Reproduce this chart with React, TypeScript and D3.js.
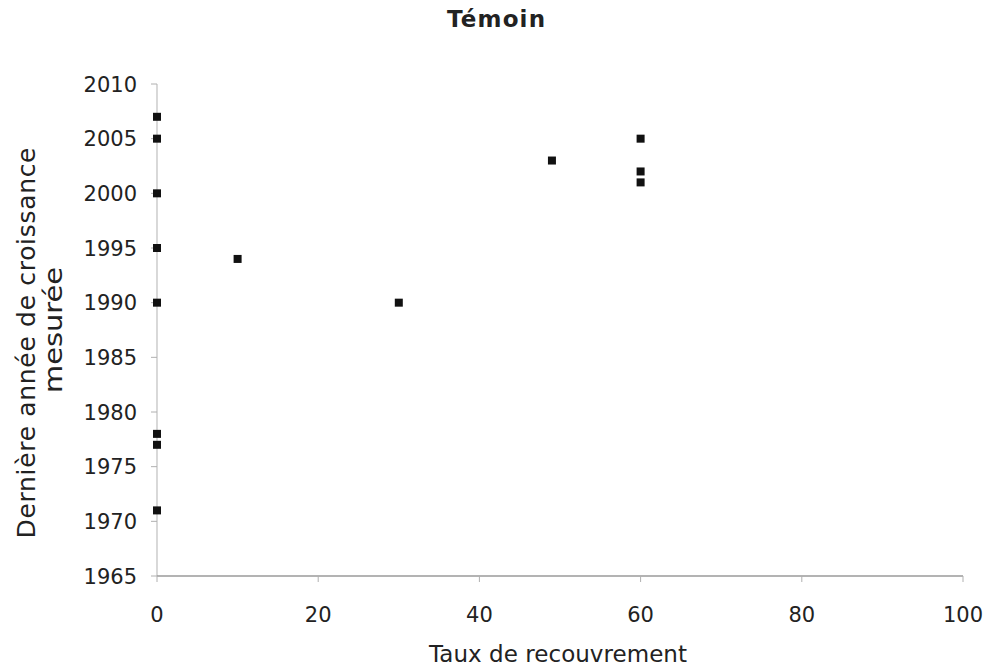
import React from "react";
import * as d3 from "d3";

const title = "Témoin";
const xLabel = "Taux de recouvrement";
const yLabelLines = ["Dernière année de croissance", "mesurée"];
const xTicks = [0, 20, 40, 60, 80, 100];
const yTicks = [1965, 1970, 1975, 1980, 1985, 1990, 1995, 2000, 2005, 2010];
const coverValues = [0, 0, 0, 0, 0, 0, 0, 0, 10, 30, 49, 60, 60, 60];
const yearValues = [2007, 2005, 2000, 1995, 1990, 1978, 1977, 1971, 1994, 1990, 2003, 2005, 2002, 2001];

const W = 994;
const H = 670;
const left = 157;
const right = 963;
const top = 84;
const bottom = 576;
const font = "Verdana, 'DejaVu Sans', sans-serif";

export default function App() {
  const x = d3.scaleLinear().domain([0, 100]).range([left, right]);
  const y = d3.scaleLinear().domain([1965, 2010]).range([bottom, top]);
  const pts = coverValues.map((c, i) => ({ c, v: yearValues[i] }));
  const sq = 8;
  const yLab = [
    { cx: 343, bx: 35, len: 391, adj: "spacing" },
    { cx: 330, bx: 62, len: 126, adj: "spacingAndGlyphs" },
  ];
  return (
    <svg width={W} height={H} style={{ position: "absolute", left: 0, top: 0, background: "#fff" }}>
      <text x={496} y={27} textAnchor="middle" fontFamily={font} fontWeight="bold" fontSize={23} fill="#222" textLength={98} lengthAdjust="spacing">
        {title}
      </text>
      <line x1={left} x2={left} y1={top} y2={bottom} stroke="#c4c4c4" strokeWidth={1.3} />
      <line x1={left} x2={right} y1={bottom} y2={bottom} stroke="#9a9a9a" strokeWidth={1.6} />
      {yTicks.map((t) => (
        <g key={"y" + t}>
          <line x1={left - 6} x2={left} y1={y(t)} y2={y(t)} stroke="#b0b0b0" strokeWidth={1} />
          <text x={left - 20} y={y(t)} dy="0.36em" textAnchor="end" fontFamily={font} fontSize={21} fill="#222">
            {t}
          </text>
        </g>
      ))}
      {xTicks.map((t) => (
        <g key={"x" + t}>
          <line x1={x(t)} x2={x(t)} y1={bottom} y2={bottom + 6} stroke="#b0b0b0" strokeWidth={1} />
          <text x={x(t)} y={bottom + 46} textAnchor="middle" fontFamily={font} fontSize={21} fill="#222">
            {t}
          </text>
        </g>
      ))}
      <text x={558} y={662} textAnchor="middle" fontFamily={font} fontSize={23} fill="#222" textLength={258} lengthAdjust="spacing">
        {xLabel}
      </text>
      {yLabelLines.map((l, i) => (
        <text
          key={i}
          transform={`translate(${yLab[i].bx}, ${yLab[i].cx}) rotate(-90)`}
          x={0}
          y={0}
          textAnchor="middle"
          fontFamily={font}
          fontSize={25}
          fill="#222"
          textLength={yLab[i].len}
          lengthAdjust={yLab[i].adj}
        >
          {l}
        </text>
      ))}
      {pts.map((p, i) => (
        <rect key={i} x={x(p.c) - sq / 2} y={y(p.v) - sq / 2} width={sq} height={sq} fill="#111" />
      ))}
    </svg>
  );
}
